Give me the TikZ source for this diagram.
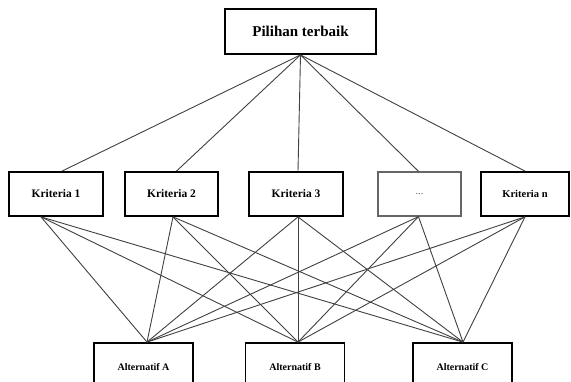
\documentclass[tikz,border=0pt]{standalone}
\usepackage{fontspec}
\setmainfont{Liberation Serif}
\begin{document}
\begin{tikzpicture}[x=1pt,y=-1pt,
  box/.style={draw=black,line width=1.8pt,fill=white,inner sep=0pt,font=\bfseries},
  kbox/.style={box,minimum height=44pt,font=\bfseries\fontsize{11.5}{13}\selectfont},
  abox/.style={box,minimum height=48pt,minimum width=99pt,font=\bfseries\fontsize{10}{12}\selectfont},
  link/.style={draw=black!75,line width=0.9pt}]
\useasboundingbox (0,0) rectangle (571,382);
\node[box,minimum width=151pt,minimum height=45pt,font=\bfseries\fontsize{15}{17}\selectfont] (top) at (300.5,31.5) {Pilihan terbaik};
\node[kbox,minimum width=94pt] (k1) at (56,194) {Kriteria 1};
\node[kbox,minimum width=93pt] (k2) at (171.5,194) {Kriteria 2};
\node[kbox,minimum width=94pt] (k3) at (296,194) {Kriteria 3};
\node[kbox,minimum width=83pt,draw=black!60,line width=1.3pt,text=black!60,font=\fontsize{10.5}{12}\selectfont] (kd) at (419.5,194) {...};
\node[kbox,minimum width=88pt,font=\bfseries\fontsize{10.5}{12}\selectfont] (kn) at (525,194) {Kriteria n};
\node[abox] (a) at (143.5,367) {Alternatif A};
\node[abox] (b) at (295,367) {Alternatif B};
\node[abox] (c) at (462.5,367) {Alternatif C};
% top to criteria
\path[link] (top.south) -- ([xshift=6pt]k1.north);
\path[link] (top.south) -- ([xshift=5pt]k2.north);
\path[link] (top.south) -- ([xshift=2pt]k3.north);
\path[link] (top.south) -- ([xshift=-1pt]kd.north);
\path[link] (top.south) -- (kn.north);
% criteria to alternatives
\foreach \k/\s in {k1/-15,k2/1.5,k3/2,kd/-1,kn/0}{
  \foreach \alt/\t in {a/3.5,b/3,c/0.5}{
    \path[link] ([xshift=\s pt]\k.south) -- ([xshift=\t pt]\alt.north);
  }
}
\end{tikzpicture}
\end{document}
